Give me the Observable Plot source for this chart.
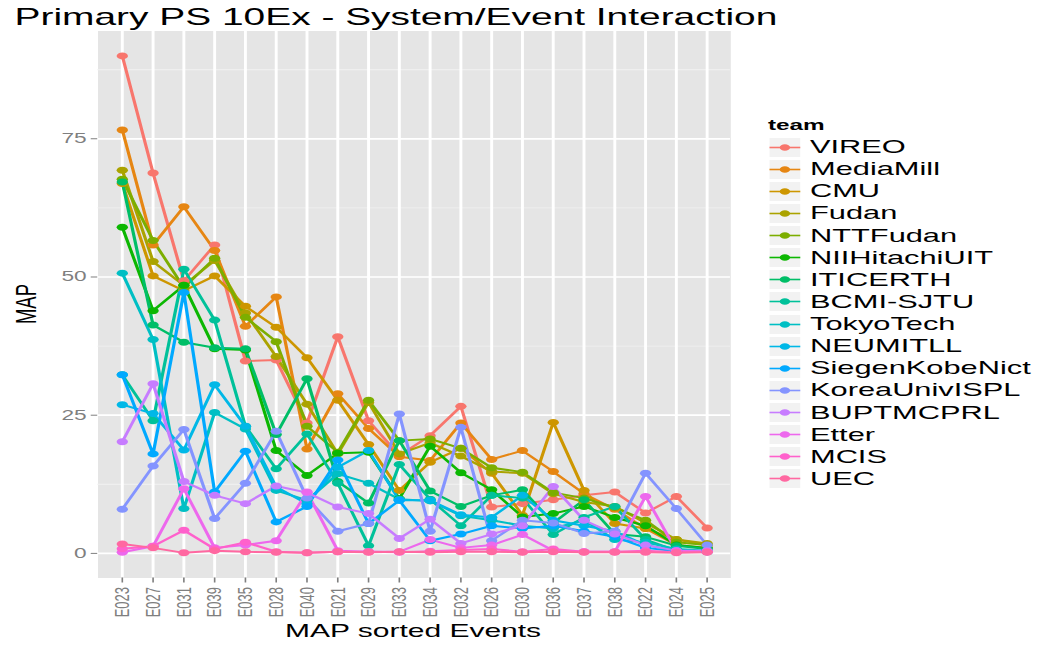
<!DOCTYPE html>
<html>
<head>
<meta charset="utf-8">
<script src="https://cdn.jsdelivr.net/npm/d3@7"></script>
<script src="https://cdn.jsdelivr.net/npm/@observablehq/plot@0.6"></script>
<style>
  html, body { margin: 0; padding: 0; background: #fff; overflow: hidden; }
  #wrap { position: absolute; left: 0; top: 0; width: 640px; height: 646px;
          transform: scaleX(1.62); transform-origin: 0 0;
          font-family: "Liberation Sans", Arial, Helvetica, sans-serif; }
  #title { position: absolute; left: 9px; top: 3px; font-size: 24px; line-height: 28px; color: #000; white-space: nowrap; }
  #chart { position: absolute; left: 0; top: 30px; }
  #xlab { position: absolute; left: 105px; width: 300px; top: 620px; text-align: center; font-size: 18.5px; line-height: 22px; color: #000; }
  #ylab { position: absolute; left: 15.5px; top: 304px; transform: translate(-50%, -50%) rotate(-90deg); font-size: 18.5px; line-height: 22px; color: #000; white-space: nowrap; }
  #legend { position: absolute; left: 474px; top: 114px; }
  #legend .ttl { font-size: 15px; font-weight: bold; height: 22px; line-height: 22px; }
  #legend .row { display: flex; align-items: center; height: 22.13px; }
  #legend .row svg { display: block; }
  #legend .row span { margin-left: 5px; font-size: 19px; line-height: 22px; white-space: nowrap; color: #000; }
</style>
</head>
<body>
<div id="wrap">
  <div id="title">Primary PS 10Ex - System/Event Interaction</div>
  <div id="chart"></div>
  <div id="ylab">MAP</div>
  <div id="xlab">MAP sorted Events</div>
  <div id="legend"></div>
</div>
<script>
// ---- data ----
const events = ["E023","E027","E031","E039","E035","E028","E040","E021","E029","E033",
                "E034","E032","E026","E030","E036","E037","E038","E022","E024","E025"];
const teams = ["VIREO","MediaMill","CMU","Fudan","NTTFudan","NIIHitachiUIT","ITICERTH","BCMI-SJTU",
               "TokyoTech","NEUMITLL","SiegenKobeNict","KoreaUnivISPL","BUPTMCPRL","Etter","MCIS","UEC"];
const yTicks = [0, 25, 50, 75];

const VIREO          = [90.0, 68.8, 49.3, 55.8, 34.8, 35.0, 23.6, 39.2, 24.0, 17.7, 21.3, 26.6, 8.4, 9.0, 9.7, 10.5, 11.1, 7.3, 10.3, 4.6];
const MediaMill      = [76.6, 55.8, 62.7, 54.8, 41.1, 46.4, 18.9, 28.9, 22.6, 17.5, 16.8, 23.6, 17.0, 18.6, 14.8, 10.8, 8.0, 4.5, 1.5, 1.0];
const CMU            = [66.9, 50.2, 47.5, 50.2, 44.7, 40.9, 35.4, 27.7, 19.7, 11.4, 16.5, 19.0, 14.5, 6.9, 23.7, 11.4, 5.4, 4.5, 2.5, 1.5];
const Fudan          = [69.3, 52.8, 48.5, 53.0, 43.5, 35.6, 27.0, 18.0, 27.3, 18.0, 20.0, 17.6, 14.8, 14.5, 10.8, 9.3, 8.5, 5.5, 2.5, 1.8];
const NTTFudan       = [67.7, 56.6, 48.1, 53.4, 42.7, 38.3, 23.0, 18.3, 27.7, 20.4, 20.7, 19.0, 15.5, 14.7, 11.0, 10.0, 8.3, 6.0, 2.0, 1.5];
const NIIHitachiUIT  = [59.0, 43.9, 48.5, 37.0, 36.8, 18.6, 14.1, 18.1, 18.3, 9.9, 19.4, 14.6, 11.5, 6.6, 7.2, 8.5, 6.5, 5.0, 1.5, 1.0];
const ITICERTH       = [67.2, 41.3, 38.2, 37.2, 37.0, 21.5, 31.6, 13.0, 9.1, 20.4, 11.3, 8.5, 10.5, 11.5, 5.5, 9.7, 3.5, 3.0, 1.4, 0.8];
const BCMI_SJTU      = [32.3, 24.0, 51.4, 42.2, 23.0, 15.3, 21.6, 12.7, 1.4, 16.1, 9.8, 5.0, 10.5, 10.0, 3.4, 6.5, 8.5, 2.5, 0.5, 0.3];
const TokyoTech      = [50.7, 38.7, 8.1, 25.5, 22.5, 11.4, 9.6, 14.4, 12.7, 9.8, 9.5, 6.8, 6.0, 5.0, 4.5, 6.0, 2.5, 2.0, 0.8, 0.5];
const NEUMITLL       = [26.9, 25.3, 18.7, 30.5, 23.0, 12.0, 9.0, 15.6, 18.6, 9.6, 9.6, 7.0, 6.5, 10.5, 6.0, 5.0, 4.0, 1.5, 0.5, 0.3];
const SiegenKobeNict = [32.3, 18.0, 47.2, 11.1, 18.5, 5.7, 8.5, 16.9, 5.4, 9.6, 2.3, 3.5, 5.0, 4.5, 5.0, 4.0, 3.0, 1.0, 0.4, 0.3];
const KoreaUnivISPL  = [8.0, 15.8, 22.4, 6.3, 12.7, 22.1, 10.0, 4.0, 5.4, 25.2, 4.0, 22.8, 2.3, 6.0, 5.5, 3.6, 4.0, 14.5, 8.1, 1.5];
const BUPTMCPRL      = [20.2, 30.7, 13.0, 10.5, 9.0, 12.2, 11.0, 8.4, 7.2, 2.7, 6.2, 1.8, 3.5, 5.0, 12.1, 6.0, 3.5, 1.5, 0.5, 0.5];
const Etter          = [0.2, 1.3, 11.7, 1.0, 1.5, 2.3, 11.1, 0.5, 0.3, 0.3, 2.5, 1.0, 1.5, 3.4, 0.5, 0.3, 0.3, 10.3, 0.5, 0.3];
const MCIS           = [0.85, 1.3, 4.2, 0.8, 2.0, 0.3, 0.1, 0.3, 0.3, 0.2, 0.4, 0.6, 0.8, 0.3, 0.8, 0.3, 0.3, 0.5, 0.2, 0.3];
const UEC            = [1.7, 1.0, 0.1, 0.5, 0.3, 0.2, 0.1, 0.3, 0.2, 0.3, 0.2, 0.3, 0.3, 0.2, 0.3, 0.2, 0.2, 0.2, 0.1, 0.2];

const series = [VIREO, MediaMill, CMU, Fudan, NTTFudan, NIIHitachiUIT, ITICERTH, BCMI_SJTU,
                TokyoTech, NEUMITLL, SiegenKobeNict, KoreaUnivISPL, BUPTMCPRL, Etter, MCIS, UEC];

const data = teams.flatMap((t, i) => series[i].map((v, j) => ({team: t, event: events[j], value: v})));

// ggplot2 hue palette (R's hcl, CIE-LUV polar)
function rHcl(h, c, l) {
  const WY = 100, un = 0.1978398, vn = 0.4683363;
  const hr = h * Math.PI / 180;
  const U = c * Math.cos(hr), V = c * Math.sin(hr);
  const Y = WY * (l > 7.999592 ? Math.pow((l + 16) / 116, 3) : l / 903.3);
  const t = 13 * l;
  const u = U / t + un, v = V / t + vn;
  const X = 9 * Y * u / (4 * v);
  const Z = -X / 3 - 5 * Y + 3 * Y / v;
  const g = x => x > 0.00304 ? 1.055 * Math.pow(x, 1 / 2.4) - 0.055 : 12.92 * x;
  const cl = x => Math.round(Math.max(0, Math.min(1, x)) * 255);
  const R = g((3.240479 * X - 1.537150 * Y - 0.498535 * Z) / WY);
  const G = g((-0.969256 * X + 1.875992 * Y + 0.041556 * Z) / WY);
  const B = g((0.055648 * X - 0.204043 * Y + 1.057311 * Z) / WY);
  return d3.rgb(cl(R), cl(G), cl(B)).formatHex();
}
const n = teams.length;
const colors = teams.map((_, i) => rHcl(15 + i * 360 / n, 100, 65));

const chart = Plot.plot({
  width: 460,
  height: 616,
  marginLeft: 60,
  marginRight: 9.4,
  marginTop: 0.5,
  marginBottom: 68.5,
  style: {background: "transparent", fontFamily: "'Liberation Sans', Arial, sans-serif"},
  x: {type: "point", domain: events, padding: 0.6},
  y: {domain: [-4.45, 94.5]},
  color: {domain: teams, range: colors},
  marks: [
    Plot.frame({fill: "#E5E5E5", stroke: "none"}),
    Plot.gridY([12.5, 37.5, 62.5, 87.5], {stroke: "#F2F2F2", strokeOpacity: 1, strokeWidth: 0.9}),
    Plot.gridY(yTicks, {stroke: "#FFFFFF", strokeOpacity: 1, strokeWidth: 1.7}),
    Plot.gridX(events, {stroke: "#FFFFFF", strokeOpacity: 1, strokeWidth: 1.8}),
    Plot.axisY(yTicks, {tickSize: 4, tickPadding: 3, fontSize: 14, color: "#7F7F7F", label: null}),
    Plot.axisX(events, {tickSize: 5, tickPadding: 4, tickRotate: -90, fontSize: 13, color: "#7F7F7F", label: null}),
    Plot.line(data, {x: "event", y: "value", z: "team", stroke: "team", strokeWidth: 2}),
    Plot.dot(data, {x: "event", y: "value", fill: "team", r: 3.5, stroke: "none"})
  ]
});
document.getElementById("chart").appendChild(chart);

// legend
const leg = document.getElementById("legend");
const ttl = document.createElement("div");
ttl.className = "ttl";
ttl.textContent = "team";
leg.appendChild(ttl);
teams.forEach((t, i) => {
  const row = document.createElement("div");
  row.className = "row";
  row.innerHTML =
    `<svg width="21" height="21"><rect x="0.5" y="0.5" width="20" height="20" fill="#F2F2F2" stroke="#fff" stroke-width="1"/>` +
    `<line x1="1" x2="20" y1="10.5" y2="10.5" stroke="${colors[i]}" stroke-width="1.6"/>` +
    `<circle cx="10.5" cy="10.5" r="3.2" fill="${colors[i]}"/></svg><span>${t}</span>`;
  leg.appendChild(row);
});
</script>
</body>
</html>
